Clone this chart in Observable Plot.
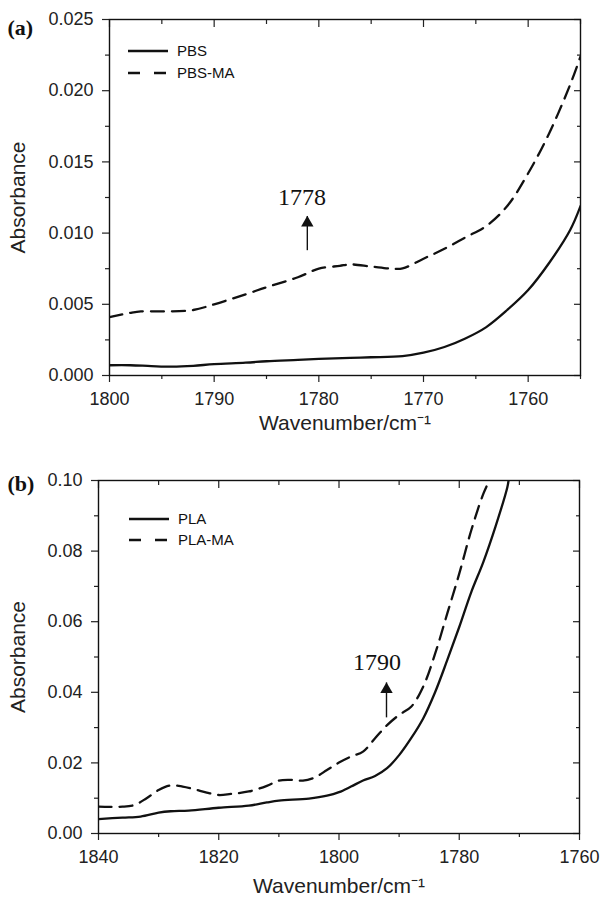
<!DOCTYPE html>
<html>
<head>
<meta charset="utf-8">
<script src="https://cdn.jsdelivr.net/npm/d3@7"></script>
<script src="https://cdn.jsdelivr.net/npm/@observablehq/plot@0.6"></script>
<style>
  html, body { margin: 0; padding: 0; background: #fff; }
  #wrap { width: 603px; }
  svg { display: block; }
</style>
</head>
<body>
<div id="wrap"></div>
<script>
// ---------- Panel (a) data ----------
const pbsWave = [1800, 1798, 1796, 1794, 1792, 1790, 1787, 1785, 1782, 1780, 1777, 1775, 1772, 1770, 1768, 1766, 1764, 1762, 1760, 1758, 1756, 1755];
const pbsAbs  = [0.00072, 0.00072, 0.00066, 0.00062, 0.00068, 0.00080, 0.00090, 0.00100, 0.00110, 0.00117, 0.00124, 0.00128, 0.00136, 0.00160, 0.00200, 0.00260, 0.00340, 0.00460, 0.00600, 0.00790, 0.01020, 0.01190];
const pbsMaWave = [1800, 1798, 1797, 1795, 1792, 1790, 1787, 1785, 1782, 1780, 1778, 1777, 1775, 1773, 1772, 1770, 1768, 1766, 1764, 1762, 1760, 1758, 1756, 1755];
const pbsMaAbs  = [0.00410, 0.00440, 0.00450, 0.00450, 0.00460, 0.00500, 0.00570, 0.00620, 0.00690, 0.00750, 0.00770, 0.00780, 0.00765, 0.00750, 0.00752, 0.00820, 0.00890, 0.00970, 0.01050, 0.01190, 0.01420, 0.01700, 0.02040, 0.02240];

// ---------- Panel (b) data ----------
const plaWave = [1840, 1836, 1833, 1830, 1828, 1825, 1820, 1815, 1812, 1810, 1805, 1802, 1800, 1798, 1796, 1794, 1792, 1790, 1788, 1786, 1784, 1782, 1780, 1778, 1776, 1774, 1772, 1771.8];
const plaAbs  = [0.0041, 0.0045, 0.0048, 0.0059, 0.0063, 0.0065, 0.0073, 0.0079, 0.0088, 0.0093, 0.0099, 0.0107, 0.0117, 0.0133, 0.0150, 0.0163, 0.0185, 0.0222, 0.0270, 0.0326, 0.0401, 0.0491, 0.0585, 0.0684, 0.0769, 0.0868, 0.0981, 0.1000];
const plaMaWave = [1840, 1836, 1834, 1832, 1830, 1828, 1826, 1824, 1822, 1820, 1818, 1815, 1812, 1810, 1808, 1806, 1804, 1802, 1800, 1798, 1796, 1794, 1792, 1790, 1788, 1786, 1784, 1782, 1780, 1778, 1776, 1775];
const plaMaAbs  = [0.0076, 0.0076, 0.0081, 0.0100, 0.0123, 0.0136, 0.0133, 0.0125, 0.0116, 0.0109, 0.0112, 0.0119, 0.0135, 0.0150, 0.0152, 0.0150, 0.0159, 0.0180, 0.0201, 0.0218, 0.0232, 0.0270, 0.0307, 0.0336, 0.0359, 0.0416, 0.0510, 0.0623, 0.0736, 0.0859, 0.0962, 0.1000];

// ---------- Tick values ----------
const aMajorX = [1800, 1790, 1780, 1770, 1760];
const aMinorX = [1795, 1785, 1775, 1765, 1755];
const aMajorY = [0, 0.005, 0.010, 0.015, 0.020, 0.025];
const aMinorY = [0.0025, 0.0075, 0.0125, 0.0175, 0.0225];
const bMajorX = [1840, 1820, 1800, 1780, 1760];
const bMinorX = [1830, 1810, 1790, 1770];
const bMajorY = [0, 0.02, 0.04, 0.06, 0.08, 0.10];
const bMinorY = [0.01, 0.03, 0.05, 0.07, 0.09];

// ---------- Annotations ----------
const annotLabels = ["1778", "1790"];
const annotTextWave = [1781.6, 1793.7];
const annotTextAbs = [0.0120, 0.0462];
const annotArrowWave = [1781.1, 1792.1];
const annotTail = [0.0088, 0.0329];
const annotTip = [0.0112, 0.0428];

const legendA = ["PBS", "PBS-MA"];
const legendB = ["PLA", "PLA-MA"];

const SANS = "Liberation Sans, Arial, Helvetica, sans-serif";
const SERIF = "Liberation Serif, Times New Roman, serif";

function toRows(w, a) { return w.map((x, i) => ({w: x, a: a[i]})); }

function panel(cfg) {
  const solid = toRows(cfg.solidW, cfg.solidA);
  const dashed = toRows(cfg.dashW, cfg.dashA);
  const ann = [{w: cfg.annTW, a: cfg.annTA, label: cfg.annLabel, aw: cfg.annAW, tail: cfg.annTail, tip: cfg.annTip}];
  const blank = () => "";
  const svg = Plot.plot({
    width: 603,
    height: cfg.height,
    marginTop: cfg.mt,
    marginBottom: cfg.mb,
    marginLeft: cfg.ml,
    marginRight: cfg.mr,
    style: {fontFamily: SANS, fontSize: "18px", color: "#222", background: "#fff"},
    x: {domain: cfg.xDomain},
    y: {domain: cfg.yDomain},
    marks: [
      // bottom axis
      Plot.axisX(cfg.majorX, {anchor: "bottom", tickSize: 7, tickPadding: 10, tickFormat: d => String(d), fontSize: 18, label: null, strokeWidth: 1.2}),
      Plot.axisX(cfg.minorX, {anchor: "bottom", tickSize: 4, tickFormat: blank, label: null, strokeWidth: 1.2}),
      // top inward ticks
      Plot.axisX(cfg.majorX, {anchor: "top", tickSize: 7, dy: 7, tickFormat: blank, label: null, strokeWidth: 1.2}),
      Plot.axisX(cfg.minorX, {anchor: "top", tickSize: 4, dy: 4, tickFormat: blank, label: null, strokeWidth: 1.2}),
      // left axis
      Plot.axisY(cfg.majorY, {anchor: "left", tickSize: 7, tickPadding: 9, tickFormat: cfg.yFormat, fontSize: 18, label: null, strokeWidth: 1.2}),
      Plot.axisY(cfg.minorY, {anchor: "left", tickSize: 4, tickFormat: blank, label: null, strokeWidth: 1.2}),
      // right inward ticks
      Plot.axisY(cfg.majorY, {anchor: "right", tickSize: 7, dx: -7, tickFormat: blank, label: null, strokeWidth: 1.2}),
      Plot.axisY(cfg.minorY, {anchor: "right", tickSize: 4, dx: -4, tickFormat: blank, label: null, strokeWidth: 1.2}),
      Plot.frame({stroke: "#111", strokeWidth: 1.4}),
      Plot.line(solid, {x: "w", y: "a", stroke: "#111", strokeWidth: 2.3, curve: "catmull-rom", clip: true}),
      Plot.line(dashed, {x: "w", y: "a", stroke: "#111", strokeWidth: 2.3, strokeDasharray: "13,8", curve: "catmull-rom", clip: true}),
      // annotation
      Plot.link(ann, {x1: "aw", x2: "aw", y1: "tail", y2: "tip", stroke: "#111", strokeWidth: 1.4}),
      Plot.dot(ann, {x: "aw", y: "tip", symbol: "triangle", r: 4.6, fill: "#111", stroke: "none", dy: 7}),
      Plot.text(ann, {x: "w", y: "a", text: "label", fontFamily: SERIF, fontSize: 24, lineAnchor: "bottom", fill: "#111"}),
      // axis titles
      Plot.text(["Absorbance"], {frameAnchor: "left", text: d => d, rotate: -90, dx: cfg.yTitleDx, fontSize: 21, textAnchor: "middle", lineAnchor: "middle", fill: "#222"}),
      Plot.text(["Wavenumber/cm\u207B\u00B9"], {frameAnchor: "bottom", text: d => d, dy: cfg.xTitleDy, fontSize: 21, textAnchor: "middle", lineAnchor: "middle", fill: "#222"}),
      // panel label
      Plot.text([cfg.panelLabel], {frameAnchor: "top-left", text: d => d, dx: cfg.labelDx, dy: cfg.labelDy, fontFamily: SERIF, fontWeight: "bold", fontSize: 22, textAnchor: "start", lineAnchor: "top", fill: "#111"})
    ]
  });
  // legend (inside frame, top-left)
  const g = d3.select(svg).append("g").attr("fill", "#111").attr("stroke", "#111");
  cfg.legend.forEach((name, i) => {
    const y = cfg.legY + i * cfg.legGap;
    g.append("line").attr("x1", cfg.legX).attr("x2", cfg.legX + 40).attr("y1", y).attr("y2", y)
      .attr("stroke-width", 2.4).attr("stroke-dasharray", i === 1 ? "12,14" : null);
    g.append("text").attr("x", cfg.legX + 49).attr("y", y).attr("dy", "0.35em")
      .attr("text-anchor", "start")
      .attr("stroke", "none").attr("font-family", SANS).attr("font-size", 15).text(name);
  });
  return svg;
}

const wrap = document.getElementById("wrap");
wrap.appendChild(panel({
  height: 440, mt: 19, mb: 65, ml: 109, mr: 23,
  xDomain: [1800, 1755], yDomain: [0, 0.025],
  majorX: aMajorX, minorX: aMinorX, majorY: aMajorY, minorY: aMinorY,
  yFormat: d3.format(".3f"),
  solidW: pbsWave, solidA: pbsAbs, dashW: pbsMaWave, dashA: pbsMaAbs,
  annLabel: annotLabels[0], annTW: annotTextWave[0], annTA: annotTextAbs[0],
  annAW: annotArrowWave[0], annTail: annotTail[0], annTip: annotTip[0],
  yTitleDx: -91, xTitleDy: 48, panelLabel: "(a)", labelDx: -102, labelDy: 0,
  legend: legendA, legX: 128, legY: 51, legGap: 22
}));
wrap.appendChild(panel({
  height: 459, mt: 40, mb: 66, ml: 98, mr: 24,
  xDomain: [1840, 1760], yDomain: [0, 0.10],
  majorX: bMajorX, minorX: bMinorX, majorY: bMajorY, minorY: bMinorY,
  yFormat: d3.format(".2f"),
  solidW: plaWave, solidA: plaAbs, dashW: plaMaWave, dashA: plaMaAbs,
  annLabel: annotLabels[1], annTW: annotTextWave[1], annTA: annotTextAbs[1],
  annAW: annotArrowWave[1], annTail: annotTail[1], annTip: annotTip[1],
  yTitleDx: -80, xTitleDy: 53, panelLabel: "(b)", labelDx: -91, labelDy: -5,
  legend: legendB, legX: 129, legY: 79, legGap: 21
}));
</script>
</body>
</html>
